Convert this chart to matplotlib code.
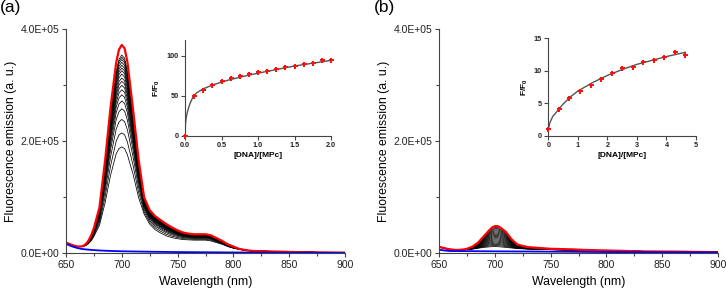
import numpy as np
import matplotlib.pyplot as plt
from matplotlib.ticker import MultipleLocator, FormatStrFormatter

plt.rcParams['font.family'] = ['Liberation Sans', 'DejaVu Sans']
plt.rcParams['mathtext.fontset'] = 'custom'
plt.rcParams['mathtext.rm'] = 'Liberation Sans'
plt.rcParams['mathtext.bf'] = 'Liberation Sans:bold'

# wavelength grid (nm) and spectra (x1000 counts)
wl = [650, 655, 660, 665, 668, 670, 672.5, 675, 680, 685, 690, 695, 697.5, 700, 702.5,
      705, 710, 715, 720, 725, 730, 735, 740, 745, 750, 755, 760, 765, 770, 775,
      780, 785, 790, 795, 800, 805, 810, 815, 820, 830, 840, 860, 880, 900]

# panel (a)
a_top = [19, 15, 12, 12.5, 17, 22, 32, 45, 82, 165, 262, 341, 364, 372, 366,
         342, 258, 168, 100, 77, 66, 59, 52, 46, 41, 37, 35, 34, 34, 34,
         32, 27, 22, 16, 12, 8, 6, 4.6, 4, 3.5, 3, 2, 1.5, 1]
a_low = [19, 15, 12, 12, 14, 17, 22, 30, 50, 90, 140, 178, 187, 190, 187,
         176, 142, 100, 70, 52, 42, 36, 31, 28, 26, 24.5, 24, 23.5, 23.5, 23.5,
         22, 19, 16, 12, 9, 7, 5.5, 4.5, 4, 3.5, 3, 2, 1.5, 1]
a_peaks = [190, 215, 239, 258, 272, 283, 292, 300, 307, 313, 320, 326, 331, 336,
           341, 346, 350, 354]
a_blue_wl = [650, 655, 660, 665, 670, 680, 690, 700, 725, 750, 800, 850, 900]
a_blue = [17, 12.5, 9.5, 7.5, 6.5, 5, 4.2, 3.6, 2.8, 2.2, 1.5, 1, 0.8]

# panel (b)
b_top = [11.5, 9, 7, 6, 6, 6.5, 7, 8, 12, 19, 30, 41, 46, 48.5, 48.5,
         46, 38, 25, 16, 13, 11, 10.2, 9.5, 8.8, 8, 7.8, 7.5, 7.2, 7, 6.5,
         6, 5.8, 5.5, 5.2, 5, 4.8, 4.5, 4.3, 4, 3.5, 3.2, 3, 2.5, 2]
b_low = [11.5, 9, 7, 6, 6, 6, 6.2, 6.5, 7.5, 9, 10.5, 11.5, 11.8, 12, 11.8,
         11.5, 10.5, 9.5, 8.5, 8, 7.5, 7.2, 7, 6.8, 6.5, 6.2, 6, 5.8, 5.5, 5.2,
         5, 4.9, 4.8, 4.6, 4.5, 4.3, 4.1, 4, 3.8, 3.5, 3.2, 3, 2.5, 2]
b_peaks = [12, 14, 16, 18, 20, 22, 24, 26, 28, 30, 32, 34, 36, 38, 40, 42, 44, 46]
b_blue_wl = [650, 655, 660, 680, 700, 750, 800, 850, 900]
b_blue = [6.5, 5, 4, 3.8, 3.5, 3, 2.2, 1.8, 1.5]

# insets: titration F/F0 vs [DNA]/[MPc]
ins_a_x = [0, 0.125, 0.25, 0.375, 0.5, 0.625, 0.75, 0.875, 1.0, 1.125, 1.25, 1.375,
           1.5, 1.625, 1.75, 1.875, 2.0]
ins_a_y = [0, 50, 57.5, 63.8, 69, 73, 75, 78, 80, 81.7, 83.8, 86.7, 88, 90.4, 91.3,
           94.6, 94.6]
fit_a_x = [0, 0.007, 0.02, 0.04, 0.07, 0.11, 0.16, 0.25, 0.4, 0.6, 0.8, 1.0, 1.25,
           1.5, 1.75, 2.0]
fit_a_y = [0, 16, 25, 32.5, 41, 49, 54, 59, 64.5, 70, 74.5, 78.5, 83, 87.5, 91, 94.5]

ins_b_x = [0, 0.357, 0.714, 1.071, 1.429, 1.786, 2.143, 2.5, 2.857, 3.214, 3.571,
           3.929, 4.286, 4.643]
ins_b_y = [1.0, 4.2, 5.9, 6.9, 7.9, 8.8, 9.7, 10.45, 10.65, 11.3, 11.6, 12.1, 12.9, 12.45]
fit_b_x = [0, 0.05, 0.15, 0.3, 0.5, 0.75, 1.0, 1.5, 2.0, 2.5, 3.0, 3.5, 4.0, 4.64]
fit_b_y = [1.0, 2.0, 3.0, 3.8, 4.9, 6.0, 6.9, 8.2, 9.3, 10.2, 11.0, 11.6, 12.2, 12.85]

W, H = 726, 289
fig = plt.figure(figsize=(W / 100, H / 100), dpi=100)

SPINE = '#444444'


def style_axes(ax, fs):
    ax.spines['top'].set_visible(False)
    ax.spines['right'].set_visible(False)
    for s in ('left', 'bottom'):
        ax.spines[s].set_color(SPINE)
        ax.spines[s].set_linewidth(0.8)
    ax.tick_params(which='both', direction='out', colors=SPINE, labelcolor='#222222',
                   labelsize=fs, width=0.8, pad=1.5)
    ax.tick_params(which='major', length=3)
    ax.tick_params(which='minor', length=2)


def draw_spectra(ax, top, low, peaks, blue_wl, blue):
    top = np.array(top) * 1000
    low = np.array(low) * 1000
    pmax = top.max()
    pmin = low.max()
    for p in peaks:
        w = (p * 1000 - pmin) / (pmax - pmin)
        ax.plot(wl, low + w * (top - low), color='black', lw=0.55)
    ax.plot(wl, top, color='#ff0000', lw=1.6)
    ax.plot(blue_wl, np.array(blue) * 1000, color='#0000ff', lw=1.3)
    ax.set_xlim(650, 900)
    ax.set_ylim(0, 4e5)
    ax.xaxis.set_major_locator(MultipleLocator(50))
    ax.xaxis.set_minor_locator(MultipleLocator(25))
    ax.yaxis.set_major_locator(MultipleLocator(2e5))
    ax.yaxis.set_minor_locator(MultipleLocator(1e5))
    ax.yaxis.set_major_formatter(FormatStrFormatter('%.1E'))
    style_axes(ax, 7.5)
    ax.set_xlabel('Wavelength (nm)', fontsize=8.8, labelpad=5)
    ax.set_ylabel('Fluorescence emission (a. u.)', fontsize=8.8, labelpad=3)


def draw_inset(ax, x, y, fx, fy, xlim, ylim, xstep, ystep, xfmt):
    ax.plot(fx, fy, color='#555555', lw=1.0, zorder=2)
    ax.plot(x, y, linestyle='none', marker='P', ms=3.6, color='#ff1010',
            markeredgewidth=0, zorder=3, clip_on=False)
    ax.set_xlim(*xlim)
    ax.set_ylim(*ylim)
    ax.xaxis.set_major_locator(MultipleLocator(xstep))
    ax.yaxis.set_major_locator(MultipleLocator(ystep))
    ax.xaxis.set_major_formatter(FormatStrFormatter(xfmt))
    style_axes(ax, 5.2)
    for lab in ax.get_xticklabels() + ax.get_yticklabels():
        lab.set_fontweight('bold')
    ax.set_xlabel('[DNA]/[MPc]', fontsize=6, fontweight='bold', labelpad=2)
    ax.set_ylabel(r'F/F$_{\mathbf{0}}$', fontsize=6, fontweight='bold', labelpad=3)
    ax.patch.set_alpha(0)


def fig_rect(x0, x1, ytop, ybot):
    return [x0 / W, 1 - ybot / H, (x1 - x0) / W, (ybot - ytop) / H]


ax1 = fig.add_axes(fig_rect(66, 345, 29.3, 253.3))
draw_spectra(ax1, a_top, a_low, a_peaks, a_blue_wl, a_blue)
ax2 = fig.add_axes(fig_rect(439, 718, 29.3, 253.3))
draw_spectra(ax2, b_top, b_low, b_peaks, b_blue_wl, b_blue)

in1 = fig.add_axes(fig_rect(185, 331, 40, 136))
draw_inset(in1, ins_a_x, ins_a_y, fit_a_x, fit_a_y, (0, 2), (0, 120), 0.5, 50, '%.1f')
in2 = fig.add_axes(fig_rect(548.3, 696, 38.3, 136))
draw_inset(in2, ins_b_x, ins_b_y, fit_b_x, fit_b_y, (0, 5), (0, 15), 1, 5, '%d')

fig.text(0 / W, 1 - 0 / H, '(a)', fontsize=12.5, va='top', ha='left')
fig.text(374 / W, 1 - 0 / H, '(b)', fontsize=12.5, va='top', ha='left')

fig.savefig('out.png', dpi=100)
